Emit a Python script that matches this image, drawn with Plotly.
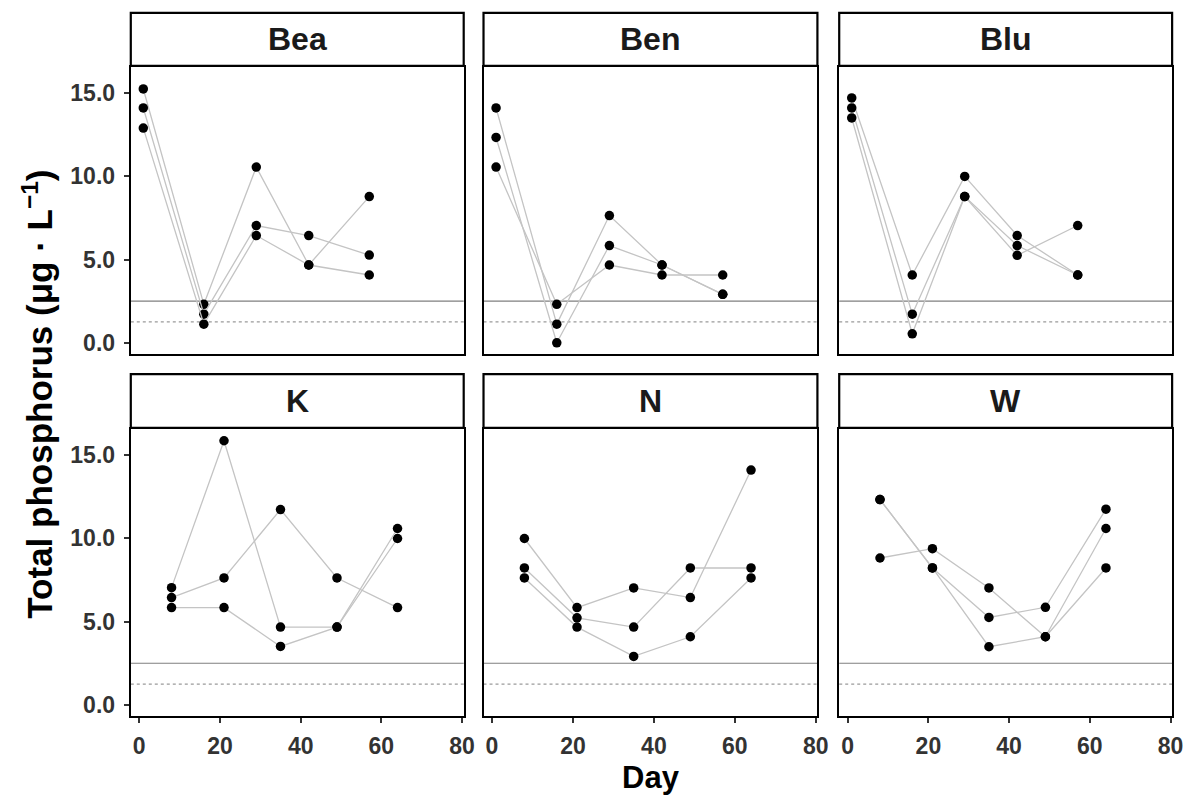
import plotly.graph_objects as go

# ---- data ----
sites = ["Bea", "Ben", "Blu", "K", "N", "W"]
days_top = [1, 16, 29, 42, 57]
days_bottom = [8, 21, 35, 49, 64]

bea_a = [15.24, 2.31, 10.55, 4.67, 8.78]
bea_b = [14.10, 1.72, 7.04, 6.44, 5.27]
bea_c = [12.89, 1.12, 6.44, 4.67, 4.07]

ben_a = [14.10, 1.12, 7.64, 4.67, 2.91]
ben_b = [12.33, 0.00, 5.84, 4.67, 2.91]
ben_c = [10.55, 2.31, 4.67, 4.07, 4.07]

blu_a = [14.70, 4.07, 9.99, 6.44, 4.07]
blu_b = [14.10, 1.72, 8.78, 5.84, 4.07]
blu_c = [13.50, 0.54, 8.78, 5.25, 7.04]

k_a = [7.04, 15.86, 4.67, 4.67, 9.99]
k_b = [6.44, 7.62, 11.73, 7.62, 5.84]
k_c = [5.84, 5.84, 3.51, 4.67, 10.59]

n_a = [9.99, 5.84, 7.02, 6.44, 14.10]
n_b = [8.22, 5.23, 4.67, 8.22, 8.22]
n_c = [7.62, 4.67, 2.91, 4.09, 7.62]

w_a = [12.33, 8.22, 5.25, 5.86, 11.75]
w_b = [12.33, 8.22, 3.49, 4.09, 10.59]
w_c = [8.82, 9.38, 7.02, 4.09, 8.22]

limit_solid = 2.5
limit_dotted = 1.25

x_ticks = [0, 20, 40, 60, 80]
y_ticks = [0, 5, 10, 15]
y_tick_labels = ["0.0", "5.0", "10.0", "15.0"]

series = {
    "Bea": (days_top, [bea_a, bea_b, bea_c]),
    "Ben": (days_top, [ben_a, ben_b, ben_c]),
    "Blu": (days_top, [blu_a, blu_b, blu_c]),
    "K": (days_bottom, [k_a, k_b, k_c]),
    "N": (days_bottom, [n_a, n_b, n_c]),
    "W": (days_bottom, [w_a, w_b, w_c]),
}

# ---- layout geometry (pixels) ----
W, H = 1197, 796
col_px = [(132, 468), (488, 825), (847, 1183)]
row_px = [(67, 355), (430, 718)]          # panel top, bottom
strip_px = [(13, 66), (375, 429)]

FONT = "Liberation Sans, Arial, sans-serif"

fig = go.Figure()
layout = dict(
    width=W, height=H,
    margin=dict(l=0, r=0, t=0, b=0),
    paper_bgcolor="white", plot_bgcolor="white",
    showlegend=False,
    font=dict(family=FONT),
)
shapes = []
annotations = []

for i, site in enumerate(sites):
    r, c = divmod(i, 3)
    n = i + 1
    xa = "x" if n == 1 else f"x{n}"
    ya = "y" if n == 1 else f"y{n}"
    xk = "xaxis" if n == 1 else f"xaxis{n}"
    yk = "yaxis" if n == 1 else f"yaxis{n}"
    x0, x1 = col_px[c]
    t, b = row_px[r]
    days, reps = series[site]
    for rep in reps:
        fig.add_trace(go.Scatter(
            x=days, y=rep, xaxis=xa, yaxis=ya, mode="lines+markers",
            line=dict(color="#c4c4c4", width=1.3),
            marker=dict(color="black", size=9.5),
            hoverinfo="x+y",
        ))
    show_x = (r == 1)
    show_y = (c == 0)
    layout[xk] = dict(
        domain=[x0 / W, x1 / W], anchor=ya, range=[-2.1, 80.4],
        tickvals=x_ticks, showticklabels=show_x,
        ticks="outside" if show_x else "", ticklen=5, tickwidth=1.5, tickcolor="#333333",
        tickfont=dict(size=23, color="#333333", family=FONT, weight="bold"),
        ticklabelstandoff=3,
        showline=True, linewidth=2.2, linecolor="black", mirror=True,
        showgrid=False, zeroline=False,
    )
    layout[yk] = dict(
        domain=[1 - b / H, 1 - t / H], anchor=xa, range=[-0.68, 16.57],
        tickvals=y_ticks, ticktext=y_tick_labels, showticklabels=show_y,
        ticks="outside" if show_y else "", ticklen=5, tickwidth=1.5, tickcolor="#333333",
        tickfont=dict(size=23, color="#333333", family=FONT, weight="bold"),
        ticklabelstandoff=4,
        showline=True, linewidth=2.2, linecolor="black", mirror=True,
        showgrid=False, zeroline=False,
    )
    # reference lines
    shapes.append(dict(type="line", xref=f"{xa} domain", yref=ya, x0=0, x1=1,
                       y0=limit_solid, y1=limit_solid,
                       line=dict(color="#7f7f7f", width=1.2), layer="below"))
    shapes.append(dict(type="line", xref=f"{xa} domain", yref=ya, x0=0, x1=1,
                       y0=limit_dotted, y1=limit_dotted,
                       line=dict(color="#9a9a9a", width=1.2, dash="dot"), layer="below"))
    # strip
    st, sb = strip_px[r]
    shapes.append(dict(type="rect", xref="paper", yref="paper",
                       x0=x0 / W, x1=x1 / W, y0=1 - sb / H, y1=1 - st / H,
                       line=dict(color="black", width=2.2), fillcolor="white"))
    annotations.append(dict(text=f"<b>{site}</b>", xref="paper", yref="paper",
                            x=(x0 + x1) / 2 / W, y=1 - (st + sb) / 2 / H,
                            xanchor="center", yanchor="middle", showarrow=False,
                            font=dict(size=32, color="#1a1a1a", family=FONT)))

annotations.append(dict(text="<b>Day</b>", xref="paper", yref="paper",
                        x=657 / W, y=1 - 779 / H, xanchor="center", yanchor="middle",
                        showarrow=False, font=dict(size=31, color="black", family=FONT)))
annotations.append(dict(text="<b>Total phosphorus (μg · L<sup>−1</sup>)</b>",
                        xref="paper", yref="paper", textangle=-90,
                        x=38 / W, y=1 - 395 / H, xanchor="center", yanchor="middle",
                        showarrow=False, font=dict(size=35, color="black", family=FONT)))

layout["shapes"] = shapes
layout["annotations"] = annotations
fig.update_layout(**layout)
fig.write_html("out.html")
